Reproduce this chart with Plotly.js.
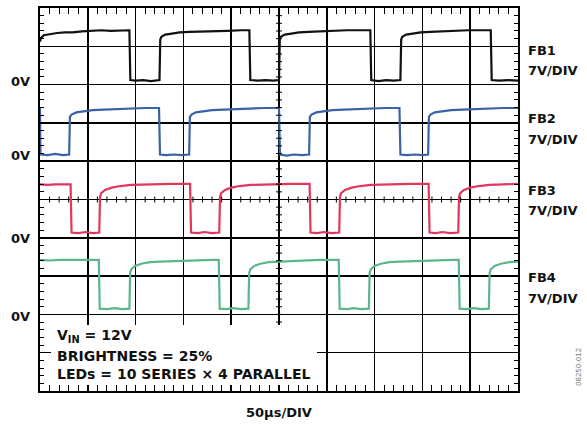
<!DOCTYPE html>
<html>
<head>
<meta charset="utf-8">
<script src="https://cdn.plot.ly/plotly-3.0.1.min.js"></script>
<style>html,body{margin:0;padding:0;background:#fff;}#chart{width:587px;height:425px;}</style>
</head>
<body>
<div id="chart"></div>
<script>
// time in microseconds (50 µs/DIV), voltages in volts (7 V/DIV)
var fb1Time = [0,1,4,10,18,26,34,44,54,64,74,84,93.5,94.5,100,108,116,125,125.8,127,131,138,146,156,168,182,196,210,219,220,228,236,244,250,250.8,252,256,263,271,281,293,307,321,335,345.5,346.5,354,362,370,377,377.8,379,383,390,398,408,420,434,448,462,471.5,472.5,480,490,500];
var fb1Volts = [7.2,7.9,8.4,8.6,8.8,8.9,8.9,9.1,9.2,9.3,9.2,9.3,9.3,0.2,0.1,0.2,0.0,0.2,7.6,8.1,8.5,8.7,8.9,9.0,9.1,9.2,9.2,9.3,9.3,0.2,0.1,0.2,0.1,0.2,7.6,8.1,8.5,8.7,8.9,9.0,9.1,9.2,9.3,9.3,9.3,0.2,0.0,0.2,0.1,0.2,7.6,8.1,8.5,8.7,8.9,9.0,9.1,9.2,9.3,9.3,9.3,0.2,0.1,0.2,0.1];

var fb2Time = [0,0.5,8,16,24,30.5,31.3,33,38,45,55,67,80,95,110,124.5,125.5,132,140,148,156,156.8,158.5,163,170,180,192,205,220,235,250,251,258,266,274,281.5,282.3,284,289,296,306,318,331,346,361,376,377,384,392,400,406,406.8,408.5,413,420,430,442,455,470,485,500];
var fb2Volts = [8.6,0.1,0.0,0.2,0.0,0.1,7.0,7.4,7.8,8.0,8.2,8.3,8.4,8.5,8.6,8.6,0.1,0.0,0.1,0.0,0.1,7.0,7.4,7.8,8.0,8.2,8.3,8.4,8.5,8.6,8.6,0.1,-0.1,0.1,0.0,0.1,7.0,7.4,7.8,8.0,8.2,8.3,8.4,8.5,8.6,8.6,0.1,0.0,0.1,0.0,0.1,7.0,7.4,7.8,8.0,8.2,8.3,8.4,8.5,8.6,8.6];

var fb3Time = [0,8,16,24,32,33,40,48,55,62,62.8,64,68,75,84,95,108,122,138,150,157,158,165,172,180,187.5,188.3,189.5,193.5,200,209,220,233,247,262,274,282,283,290,297,305,313,313.8,315,319,326,335,346,359,373,388,400,406.5,407.5,414,421,429,437.5,438.3,439.5,443.5,450,459,470,483,500];
var fb3Volts = [9.9,9.8,9.9,9.9,9.9,1.1,1.0,1.2,1.0,1.1,7.6,8.3,8.9,9.3,9.6,9.8,9.9,10.0,10.0,10.0,10.0,1.1,1.0,1.2,1.0,1.1,7.6,8.3,8.9,9.3,9.6,9.8,9.9,10.0,10.0,10.0,10.0,1.1,1.0,1.2,1.0,1.1,7.6,8.3,8.9,9.3,9.6,9.8,9.9,10.0,10.0,10.0,10.0,1.1,1.0,1.2,1.0,1.1,7.6,8.3,8.9,9.3,9.6,9.8,9.9,10.0];

var fb4Time = [0,10,20,30,40,50,61.5,62.5,70,78,86,93.5,94.3,95.5,99.5,106,115,126,139,153,168,180,187,188,195,202,210,218,218.8,220,224,230.5,239.5,250.5,263.5,277.5,292.5,305,312.5,313.5,321,328,336,344,344.8,346,350,356.5,365.5,376.5,389.5,403.5,418.5,431,438,439,446,454,462,469.5,470.3,471.5,475.5,482,491,500];
var fb4Volts = [10.3,10.2,10.3,10.3,10.2,10.3,10.3,1.4,1.3,1.5,1.3,1.4,7.9,8.6,9.2,9.6,9.9,10.0,10.1,10.2,10.3,10.3,10.3,1.4,1.3,1.5,1.3,1.4,7.9,8.6,9.2,9.6,9.9,10.0,10.1,10.2,10.3,10.3,10.3,1.4,1.3,1.5,1.3,1.4,7.9,8.6,9.2,9.6,9.9,10.0,10.1,10.2,10.3,10.3,10.3,1.4,1.3,1.5,1.3,1.4,7.9,8.6,9.2,9.6,9.9,10.0];

var channelNames = ['FB1','FB2','FB3','FB4'];
var channelScale = ['7V/DIV','7V/DIV','7V/DIV','7V/DIV'];
var zeroLabel = '0V';
var timeScaleLabel = '50µs/DIV';
var noteLines = ['V<sub>IN</sub> = 12V','BRIGHTNESS = 25%','LEDs = 10 SERIES × 4 PARALLEL'];
var figureId = '08250-012';

var colors = ['#111111','#3b62a5','#e0375f','#5db68b'];
var F = 'DejaVu Sans';
var boldFont = {family: F, size: 13, color: '#111', weight: 'bold'};
var noteFont = {family: F, size: 14, color: '#111', weight: 'bold'};

// 0 V position for each channel, in divisions from the bottom of the screen (10 divisions tall)
var zeroDiv = [8.09, 6.16, 3.98, 1.95];
var vPerDiv = 7;

var times = [fb1Time, fb2Time, fb3Time, fb4Time];
var volts = [fb1Volts, fb2Volts, fb3Volts, fb4Volts];
var yIds = ['y', 'y2', 'y3', 'y4'];
var traces = [];
for (var i = 0; i < 4; i++) {
  traces.push({
    x: times[i], y: volts[i], type: 'scatter', mode: 'lines',
    name: channelNames[i], xaxis: 'x', yaxis: yIds[i],
    line: {color: colors[i], width: 2.2}, hoverinfo: 'skip', showlegend: false
  });
}

function chRange(k) { return [-zeroDiv[k] * vPerDiv, (10 - zeroDiv[k]) * vPerDiv]; }

var layout = {
  width: 587, height: 425,
  margin: {l: 40, r: 69, t: 8, b: 34, pad: 0},
  paper_bgcolor: '#fff', plot_bgcolor: '#fff',
  showlegend: false,
  xaxis: {
    range: [0, 500], dtick: 50, tick0: 0, showgrid: true, gridcolor: '#000', gridwidth: 1.5,
    showline: true, linecolor: '#000', linewidth: 2, mirror: 'allticks',
    ticks: 'inside', ticklen: 6, tickcolor: '#000', tickwidth: 1.2,
    minor: {dtick: 10, ticks: 'inside', ticklen: 4, tickcolor: '#000', tickwidth: 1, showgrid: false},
    showticklabels: false, zeroline: false, fixedrange: true
  },
  // FB1 axis carries the graticule: one division = 7 V
  yaxis: {
    range: chRange(0), tickmode: 'linear', tick0: chRange(0)[0], dtick: vPerDiv,
    showgrid: true, gridcolor: '#000', gridwidth: 1.5,
    showline: true, linecolor: '#000', linewidth: 2, mirror: 'allticks',
    ticks: 'inside', ticklen: 6, tickcolor: '#000', tickwidth: 1.2,
    minor: {tickmode: 'linear', tick0: chRange(0)[0], dtick: vPerDiv / 5, ticks: 'inside', ticklen: 4, tickcolor: '#000', tickwidth: 1, showgrid: false},
    showticklabels: false, zeroline: false, fixedrange: true
  },
  shapes: [],
  annotations: []
};

for (var k = 1; k < 4; k++) {
  layout['yaxis' + (k + 1)] = {
    overlaying: 'y', anchor: 'x', side: 'left', range: chRange(k),
    showticklabels: false, ticks: '', showgrid: false, showline: false, zeroline: false, fixedrange: true
  };
}

// centre crosshair minor ticks (graticule decoration, every 1/5 division)
var halfX = 3 / 383, halfY = 3 / 478;
for (var m = 1; m < 50; m++) {
  layout.shapes.push({type: 'line', xref: 'x', yref: 'paper', x0: m * 10, x1: m * 10,
    y0: 0.5 - halfX, y1: 0.5 + halfX, line: {color: '#000', width: 1}, layer: 'above'});
  layout.shapes.push({type: 'line', xref: 'paper', yref: 'paper', x0: 0.5 - halfY, x1: 0.5 + halfY,
    y0: m / 50, y1: m / 50, line: {color: '#000', width: 1}, layer: 'above'});
}
// white panel behind the notes
layout.shapes.push({type: 'rect', xref: 'paper', yref: 'paper', x0: 0.023, x1: 0.5795, y0: 0.0157, y1: 0.172,
  fillcolor: '#fff', line: {width: 0}, layer: 'above'});

// 0 V markers placed on each channel's own scale
for (var z = 0; z < 4; z++) {
  layout.annotations.push({text: zeroLabel, xref: 'paper', yref: yIds[z], x: -8 / 478, y: 0,
    xanchor: 'right', yanchor: 'middle', showarrow: false, font: boldFont});
}

var labelY = [[50, 70], [118.5, 139.5], [190, 210.5], [277, 298]];
for (var j = 0; j < 4; j++) {
  layout.annotations.push({text: channelNames[j], xref: 'paper', yref: 'paper', x: (526 - 40) / 478,
    y: (391 - labelY[j][0]) / 383, xanchor: 'left', yanchor: 'middle', showarrow: false, font: boldFont});
  layout.annotations.push({text: channelScale[j], xref: 'paper', yref: 'paper', x: (526 - 40) / 478,
    y: (391 - labelY[j][1]) / 383, xanchor: 'left', yanchor: 'middle', showarrow: false, font: boldFont});
}
layout.annotations.push({text: timeScaleLabel, xref: 'paper', yref: 'paper', x: 0.5, y: (391 - 412) / 383,
  xanchor: 'center', yanchor: 'middle', showarrow: false, font: boldFont});
var noteY = [336, 356, 374];
for (var n = 0; n < noteLines.length; n++) {
  layout.annotations.push({text: noteLines[n], xref: 'paper', yref: 'paper', x: (55 - 40) / 478,
    y: (391 - noteY[n]) / 383, xanchor: 'left', yanchor: 'middle', showarrow: false, font: noteFont});
}
layout.annotations.push({text: figureId, xref: 'paper', yref: 'paper', x: (579 - 40) / 478, y: (391 - 367) / 383,
  xanchor: 'center', yanchor: 'middle', textangle: -90, showarrow: false,
  font: {family: F, size: 7, color: '#777'}});

Plotly.newPlot('chart', traces, layout, {staticPlot: true, displayModeBar: false});
</script>
</body>
</html>
